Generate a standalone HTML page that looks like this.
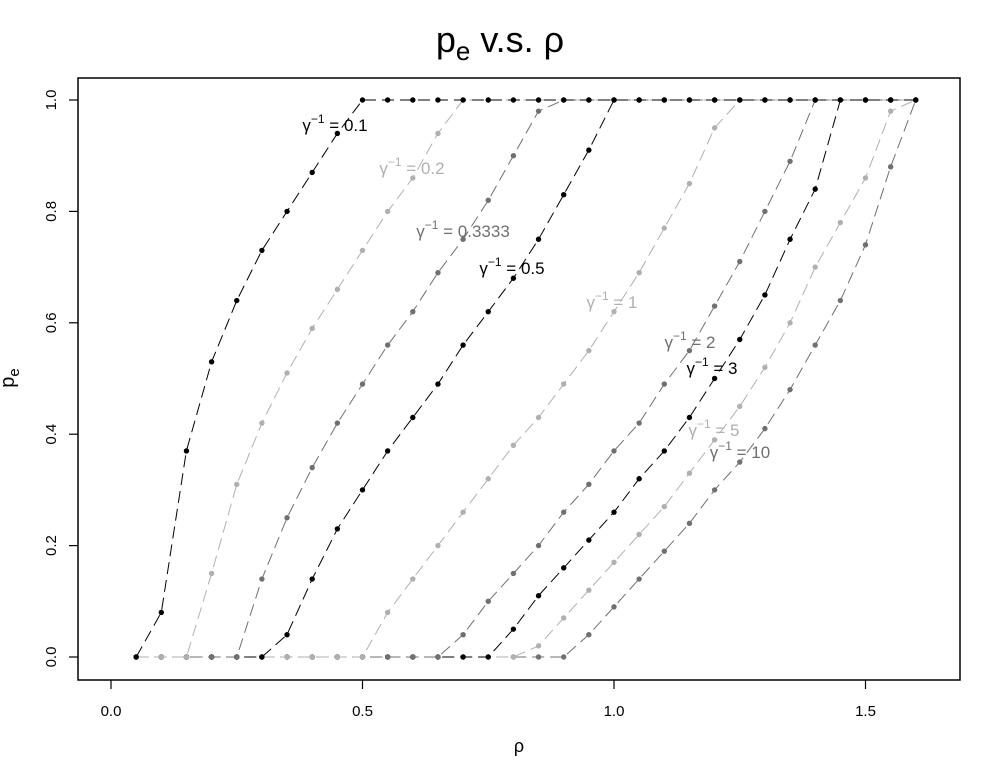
<!DOCTYPE html>
<html><head><meta charset="utf-8"><style>
body{margin:0;background:#fff;}
svg{display:block;font-family:"Liberation Sans",sans-serif;}
</style></head><body>
<svg id="chart" width="1000" height="778" viewBox="0 0 1000 778" xmlns="http://www.w3.org/2000/svg">
<rect width="1000" height="778" fill="#fff"/>
<text x="500" y="52" text-anchor="middle" font-size="36">p<tspan font-size="26" dy="8">e</tspan><tspan dy="-8"> v.s. ρ</tspan></text>
<rect x="78" y="78" width="882" height="602" fill="none" stroke="#000" stroke-width="1.5"/>
<text x="519" y="752" text-anchor="middle" font-size="18">ρ</text>
<text transform="translate(14,378) rotate(-90)" text-anchor="middle" font-size="20">p<tspan font-size="15" dy="5">e</tspan></text>
<g id="axes"></g>
<g id="series"></g>
<g id="labels"></g>
</svg>
<script>
const rho = [];
for (let i = 1; i <= 32; i++) rho.push(+(i * 0.05).toFixed(2));
const gammaLabels = ["0.1","0.2","0.3333","0.5","1","2","3","5","10"];
const s01 = [0,0.08,0.37,0.53,0.64,0.73,0.80,0.87,0.94,1,1,1,1,1,1,1,1,1,1,1,1,1,1,1,1,1,1,1,1,1,1,1];
const s02 = [0,0,0,0.15,0.31,0.42,0.51,0.59,0.66,0.73,0.80,0.86,0.94,1,1,1,1,1,1,1,1,1,1,1,1,1,1,1,1,1,1,1];
const s0333 = [0,0,0,0,0,0.14,0.25,0.34,0.42,0.49,0.56,0.62,0.69,0.75,0.82,0.90,0.98,1,1,1,1,1,1,1,1,1,1,1,1,1,1,1];
const s05 = [0,0,0,0,0,0,0.04,0.14,0.23,0.30,0.37,0.43,0.49,0.56,0.62,0.68,0.75,0.83,0.91,1,1,1,1,1,1,1,1,1,1,1,1,1];
const s1 = [0,0,0,0,0,0,0,0,0,0,0.08,0.14,0.20,0.26,0.32,0.38,0.43,0.49,0.55,0.62,0.69,0.77,0.85,0.95,1,1,1,1,1,1,1,1];
const s2 = [0,0,0,0,0,0,0,0,0,0,0,0,0,0.04,0.10,0.15,0.20,0.26,0.31,0.37,0.42,0.49,0.55,0.63,0.71,0.80,0.89,1,1,1,1,1];
const s3 = [0,0,0,0,0,0,0,0,0,0,0,0,0,0,0,0.05,0.11,0.16,0.21,0.26,0.32,0.37,0.43,0.50,0.57,0.65,0.75,0.84,1,1,1,1];
const s5 = [0,0,0,0,0,0,0,0,0,0,0,0,0,0,0,0,0.02,0.07,0.12,0.17,0.22,0.27,0.33,0.39,0.45,0.52,0.60,0.70,0.78,0.86,0.98,1];
const s10 = [0,0,0,0,0,0,0,0,0,0,0,0,0,0,0,0,0,0,0.04,0.09,0.14,0.19,0.24,0.30,0.35,0.41,0.48,0.56,0.64,0.74,0.88,1];
const xTicks = [0, 0.5, 1.0, 1.5];
const xTickLabels = ["0.0","0.5","1.0","1.5"];
const yTicks = [0, 0.2, 0.4, 0.6, 0.8, 1.0];
const yTickLabels = ["0.0","0.2","0.4","0.6","0.8","1.0"];

const allSeries = [s01,s02,s0333,s05,s1,s2,s3,s5,s10];
const colors = ["#000","#b0b0b0","#707070","#000","#b0b0b0","#707070","#000","#b0b0b0","#707070"];
const labelPos = [[335,125],[412,168],[463,231],[512,268],[612,302],[690,342],[712,368],[714,430],[740,452]];
const X = v => 111 + v * 503;
const Y = v => 657 - v * 557;
const NS = "http://www.w3.org/2000/svg";
function mk(tag, attrs, parent) { const e = document.createElementNS(NS, tag); for (const k in attrs) e.setAttribute(k, attrs[k]); parent.appendChild(e); return e; }

const axes = document.getElementById('axes');
xTicks.forEach((t, i) => {
  const l = mk('line', {x1: X(t), x2: X(t), y1: 680, y2: 689, stroke: '#000', 'stroke-width': 1.2}, axes);
  
  
  const tx = mk('text', {x: X(t), y: 716, 'text-anchor': 'middle', 'font-size': 15}, axes);
  tx.textContent = xTickLabels[i];
  
  
});
yTicks.forEach((t, i) => {
  const l = mk('line', {x1: 69, x2: 78, y1: Y(t), y2: Y(t), stroke: '#000', 'stroke-width': 1.2}, axes);
  
  
  const tx = mk('text', {transform: `translate(56,${Y(t)}) rotate(-90)`, 'text-anchor': 'middle', 'font-size': 15}, axes);
  tx.textContent = yTickLabels[i];
  
  
});

const sg = document.getElementById('series');
for (let k = allSeries.length - 1; k >= 0; k--) {
  const vals = allSeries[k];
  const g = mk('g', {}, sg);
  
  
  const pts = vals.map((v, i) => X(rho[i]).toFixed(1) + ',' + Y(v).toFixed(1)).join(' ');
  const pl = mk('polyline', {points: pts, fill: 'none', stroke: colors[k], 'stroke-width': 1, 'stroke-dasharray': '12 6'}, g);
  
  
  vals.forEach((v, i) => {
    const c = mk('circle', {cx: X(rho[i]), cy: Y(v), r: 2.7, fill: colors[k]}, g);
    
    
  });
}

const lg = document.getElementById('labels');
gammaLabels.forEach((lab, k) => {
  const t = mk('text', {x: labelPos[k][0], y: labelPos[k][1] + 6, 'text-anchor': 'middle', 'font-size': 17, fill: colors[k]}, lg);
  t.innerHTML = 'γ<tspan font-size="12" dy="-8">−1</tspan><tspan dy="8"> = ' + lab + '</tspan>';
  
  
});
</script>
</body></html>
